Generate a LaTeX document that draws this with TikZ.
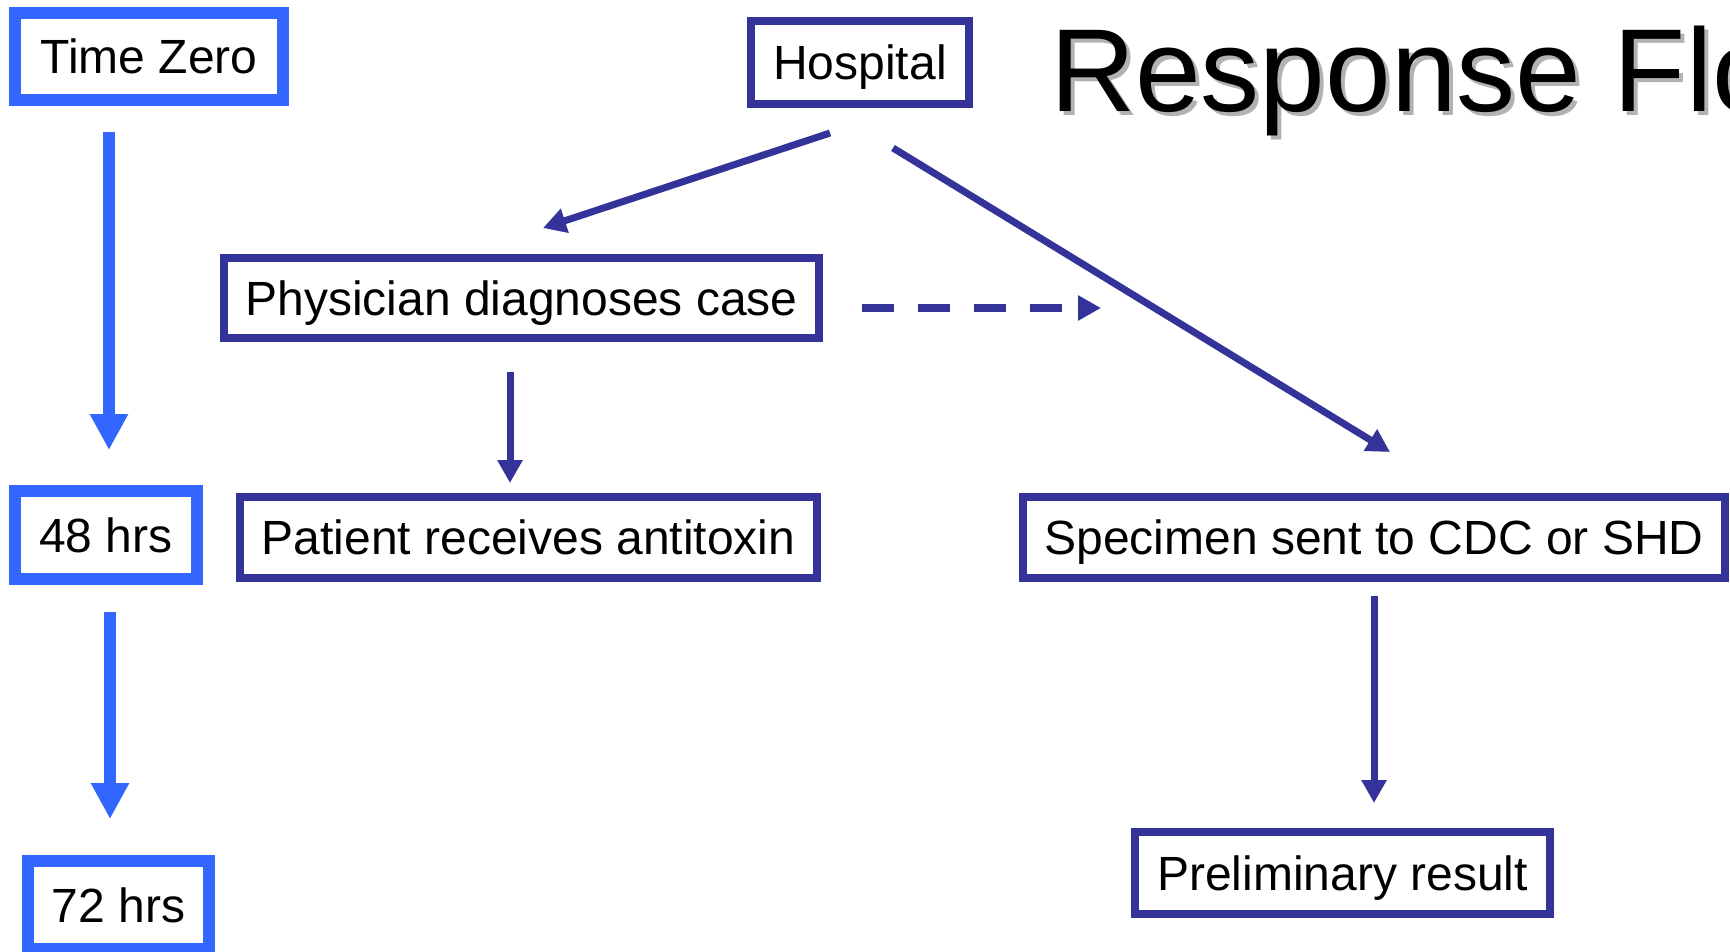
\documentclass[tikz,border=0pt]{standalone}
\usepackage{fontspec}
\setmainfont{Liberation Sans}
\usetikzlibrary{arrows.meta}
\definecolor{lblue}{HTML}{3366FF}
\definecolor{dblue}{HTML}{333399}
\definecolor{shadowgray}{HTML}{B2B2B2}
\begin{document}
\begin{tikzpicture}[x=1pt,y=-1pt,
  boxbase/.style={draw, fill=white, inner sep=0pt, outer sep=0pt, font=\fontsize{48}{48}\selectfont, text height=34.4pt, text depth=0pt, anchor=center},
  timebox/.style={boxbase, draw=lblue, line width=12pt},
  stepbox/.style={boxbase, draw=dblue, line width=8pt},
  timearrow/.style={draw=lblue, line width=12pt, -{Triangle[length=36pt,width=36pt]}},
  flowarrow/.style={draw=dblue, line width=7pt, -{Triangle[length=23pt,width=24pt]}},
  dasharrow/.style={draw=dblue, line width=8pt, dash pattern=on 32pt off 24pt, -{Triangle[length=23pt,width=24pt]}},
  titlefont/.style={anchor=base west, inner sep=0pt, outer sep=0pt, font=\fontsize{118}{118}\selectfont}
]
\clip (0,0) rectangle (1730,952);
\fill[white] (0,0) rectangle (1730,952);

% title with shadow
\node[titlefont, text=shadowgray] (titleshadow) at (1054,116) {Response Flow};
\node[titlefont, text=black] (title) at (1050,112) {Response Flow};

% time line
\node[timebox, minimum width=268pt, minimum height=87pt] (tz) at (149,56.5) {Time Zero};
\node[timebox, minimum width=182pt, minimum height=88pt] (h48) at (106,535) {48 hrs};
\node[timebox, minimum width=181pt, minimum height=88pt] (h72) at (118.5,905) {72 hrs};

% flow boxes
\node[stepbox, minimum width=218pt, minimum height=83pt] (hosp) at (860,62.5) {Hospital};
\node[stepbox, minimum width=595pt, minimum height=80pt] (phys) at (521.5,298) {Physician diagnoses case};
\node[stepbox, minimum width=577pt, minimum height=81pt] (pat) at (528.5,537.5) {Patient receives antitoxin};
\node[stepbox, minimum width=702pt, minimum height=81pt] (spec) at (1374,537.5) {Specimen sent to CDC or SHD};
\node[stepbox, minimum width=415pt, minimum height=82pt] (prel) at (1342.5,873) {Preliminary result};

\coordinate (dashend) at (1101,308);

% time arrows
\draw[timearrow] ([xshift=-40pt,yshift=-32pt]tz.south) -- ([xshift=3pt,yshift=41pt]h48.north);
\draw[timearrow] ([xshift=4pt,yshift=-33pt]h48.south) -- ([xshift=-8.5pt,yshift=42pt]h72.north);

% flow arrows
\draw[flowarrow] ([xshift=-30pt,yshift=-29pt]hosp.south) -- ([xshift=21.5pt,yshift=30pt]phys.north);
\draw[flowarrow] ([xshift=33pt,yshift=-44pt]hosp.south) -- ([xshift=16pt,yshift=45pt]spec.north);
\draw[flowarrow] ([xshift=-11.5pt,yshift=-34pt]phys.south) -- ([xshift=-18.5pt,yshift=14pt]pat.north);
\draw[flowarrow] ([yshift=-18pt]spec.south) -- ([xshift=31.5pt,yshift=29pt]prel.north);
\draw[dasharrow] ([xshift=43pt,yshift=-10pt]phys.east) -- (dashend);
\end{tikzpicture}
\end{document}
